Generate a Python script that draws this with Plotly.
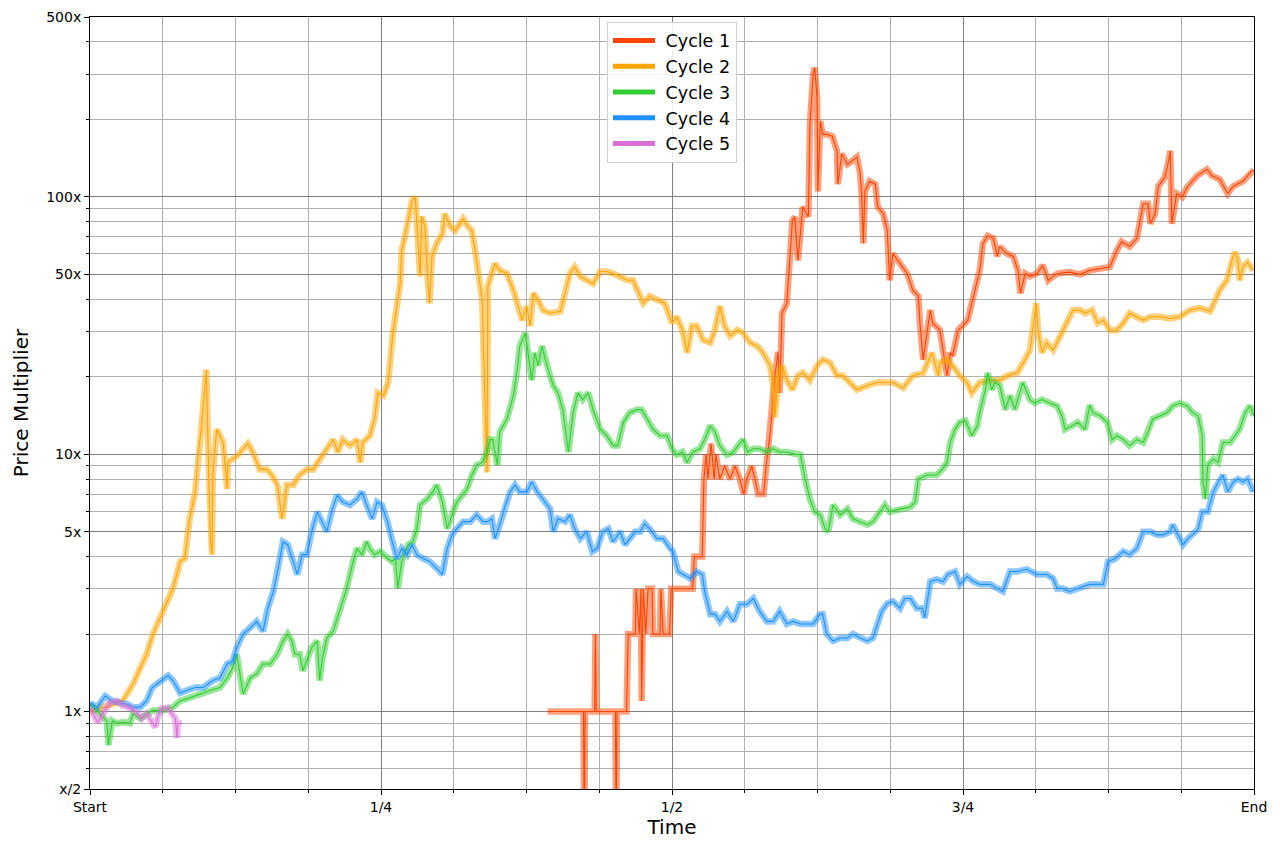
"""Cycle comparison chart.

Price multiplier of each cycle, normalised to its start, on a log axis.
"""

import plotly.graph_objects as go

# Length of one cycle in days (x axis runs Start -> End)
CYCLE_DAYS = 1460

CYCLE_NAMES = ["Cycle 1", "Cycle 2", "Cycle 3", "Cycle 4", "Cycle 5"]
CYCLE_COLORS = ["#FF4500", "#FFA500", "#32CD32", "#1E90FF", "#DA70D6"]

X_TICK_LABELS = ["Start", "1/4", "1/2", "3/4", "End"]
Y_TICK_VALUES = [0.5, 1, 5, 10, 50, 100, 500]
Y_TICK_LABELS = ["x/2", "1x", "5x", "10x", "50x", "100x", "500x"]

# Cycle 1 (starts late, stepped early prices)
CYCLE1_DAYS = [
    574, 619, 620, 621, 633, 634, 635, 659, 660, 661,
    673, 675, 684, 685, 689, 691, 692, 694, 697, 700,
    705, 706, 715, 716, 719, 727, 729, 756, 758, 768,
    770, 773, 775, 779, 783, 785, 790, 796, 803, 809,
    815, 820, 824, 830, 834, 838, 845, 848, 853, 859,
    863, 865, 868, 874, 881, 884, 888, 894, 901, 903,
    907, 909, 912, 913, 916, 919, 924, 931, 937, 938,
    943, 950, 956, 962, 966, 968, 970, 972, 978, 985,
    988, 995, 1000, 1003, 1007, 1016, 1025, 1032, 1039, 1041,
    1045, 1054, 1057, 1066, 1070, 1075, 1079, 1082, 1089, 1095,
    1101, 1108, 1116, 1120, 1126, 1133, 1138, 1141, 1150, 1158,
    1164, 1167, 1173, 1179, 1188, 1195, 1202, 1208, 1214, 1229,
    1242, 1254, 1267, 1279, 1288, 1294, 1304, 1313, 1321, 1327,
    1330, 1336, 1340, 1348, 1352, 1355, 1357, 1363, 1370, 1376,
    1389, 1401, 1407, 1417, 1427, 1434, 1446, 1457, 1460,
]
CYCLE1_MULT = [
    1.0, 1.0, 0.3, 1.0, 1.0, 2.0, 1.0, 1.0, 0.3, 1.0,
    1.0, 2.0, 2.0, 3.0, 2.0, 3.0, 1.1, 3.0, 2.0, 3.0,
    3.0, 2.0, 2.0, 3.0, 2.0, 2.0, 3.0, 3.0, 4.0, 4.0,
    8.0, 10.0, 8.0, 11.0, 8.0, 10.0, 8.0, 9.0, 8.0, 9.0,
    8.0, 7.0, 8.0, 9.0, 8.0, 7.0, 7.0, 9.0, 12.0, 20.0,
    25.0, 17.3, 35.3, 38.6, 80.8, 83.7, 56.6, 91.5, 83.7, 191,
    298, 318, 243, 105, 197, 175, 175, 172, 151, 112,
    147, 134, 138, 143, 123, 100, 65.9, 105, 115, 112,
    91.5, 86, 73.9, 47.4, 60.2, 55.1, 50.4, 43.4, 41.1, 32.3,
    23.3, 36.3, 32.3, 30.4, 25.4, 20.2, 24.8, 24.1, 30.4, 31.5,
    33.2, 41.1, 51.8, 65.9, 70.7, 69.0, 58.7, 64.1, 60.2, 58.7,
    51.8, 42.2, 50.4, 49.1, 50.4, 54.2, 47.4, 49.1, 50.4, 51.0,
    50.0, 51.8, 52.6, 53.4, 61.9, 67.0, 64.1, 68.9, 94.0, 94.0,
    78.7, 86.0, 110, 119, 134, 151, 78.7, 103, 100, 109,
    121, 128, 121, 117, 103, 110, 115, 126, 127,
]

# Cycle 2
CYCLE2_DAYS = [
    0, 13, 25, 41, 54, 63, 71, 79, 88, 97,
    104, 109, 113, 119, 125, 132, 135, 140, 144, 146,
    148, 151, 153, 154, 159, 163, 167, 172, 173, 179,
    186, 192, 198, 204, 213, 222, 228, 235, 241, 247,
    255, 263, 272, 280, 288, 297, 305, 311, 317, 326,
    335, 339, 342, 351, 357, 361, 368, 374, 380, 389,
    391, 395, 399, 404, 408, 411, 414, 416, 420, 424,
    426, 429, 435, 442, 445, 452, 458, 464, 468, 474,
    479, 483, 487, 492, 493, 495, 497, 498, 499, 504,
    508, 514, 523, 531, 536, 542, 548, 552, 556, 562,
    568, 577, 590, 596, 602, 608, 615, 623, 631, 640,
    648, 656, 665, 674, 681, 687, 694, 702, 711, 721,
    730, 736, 743, 749, 755, 761, 769, 778, 784, 790,
    796, 803, 812, 819, 828, 837, 844, 853, 857, 859,
    863, 868, 874, 881, 888, 894, 903, 912, 919, 928,
    937, 944, 953, 962, 975, 987, 1007, 1020, 1032, 1045,
    1056, 1064, 1066, 1075, 1082, 1091, 1100, 1106, 1116, 1129,
    1141, 1151, 1163, 1173, 1179, 1183, 1187, 1189, 1194, 1200,
    1208, 1217, 1225, 1233, 1242, 1248, 1257, 1264, 1271, 1279,
    1288, 1296, 1304, 1313, 1321, 1330, 1342, 1355, 1367, 1380,
    1392, 1405, 1411, 1417, 1426, 1432, 1436, 1440, 1442, 1446,
    1452, 1459,
]
CYCLE2_MULT = [
    1.0, 1.03, 1.05, 1.10, 1.28, 1.48, 1.67, 2.0, 2.31, 2.68,
    3.01, 3.41, 3.83, 3.93, 5.61, 7.14, 9.59, 12.9, 18.5, 21.3,
    11.1, 4.57, 4.07, 8.30, 12.5, 11.8, 11.1, 7.33, 9.29, 9.59,
    9.95, 10.5, 11.0, 10.2, 8.73, 8.73, 8.30, 7.59, 5.61, 7.59,
    7.59, 8.30, 8.73, 8.73, 9.59, 10.5, 11.4, 10.2, 11.4, 10.8,
    11.4, 9.29, 11.1, 11.8, 13.7, 17.3, 16.9, 19.0, 29.6, 46.0,
    62.0, 70.0, 80.8, 96.8, 100, 72.0, 49.1, 84.0, 76.7, 46.0,
    38.6, 58.7, 65.9, 72.0, 86.0, 76.7, 73.9, 78.7, 82.2, 76.7,
    73.9, 62.0, 50.4, 39.7, 29.6, 19.0, 12.2, 8.5, 44.9, 50.4,
    55.1, 51.8, 50.4, 43.4, 38.6, 33.2, 37.6, 31.5, 42.2, 39.7,
    36.3, 35.3, 35.9, 42.2, 50.4, 53.4, 49.1, 47.4, 46.0, 51.3,
    51.3, 50.4, 49.1, 47.4, 47.4, 43.4, 38.6, 41.1, 39.7, 38.6,
    32.3, 34.2, 30.4, 24.8, 31.5, 31.5, 27.8, 27.1, 30.4, 37.6,
    31.5, 28.8, 30.4, 29.6, 27.1, 26.3, 24.8, 22.1, 18.5, 13.9,
    19.4, 22.1, 19.4, 17.8, 20.2, 20.7, 19.4, 22.1, 23.3, 22.7,
    20.2, 20.2, 19.0, 17.8, 18.5, 19.0, 19.0, 18.1, 20.2, 20.7,
    24.8, 20.2, 22.7, 23.3, 22.1, 20.2, 19.0, 17.3, 19.0, 19.4,
    19.4, 20.2, 20.7, 23.3, 25.4, 31.5, 38.6, 30.4, 24.8, 27.1,
    25.4, 28.8, 32.3, 36.3, 36.3, 35.3, 36.3, 32.3, 33.2, 30.4,
    30.4, 32.3, 35.3, 34.2, 33.2, 34.2, 34.2, 33.7, 34.2, 36.3,
    37.0, 35.9, 39.3, 43.4, 47.4, 56.6, 61.1, 56.6, 47.4, 53.4,
    55.6, 51.8,
]

# Cycle 3
CYCLE3_DAYS = [
    0, 13, 21, 23, 28, 34, 41, 50, 54, 63,
    71, 79, 92, 104, 113, 125, 138, 151, 163, 172,
    179, 184, 188, 192, 201, 209, 217, 226, 235, 242,
    248, 253, 257, 263, 267, 272, 278, 285, 288, 291,
    297, 305, 314, 322, 330, 335, 341, 347, 351, 357,
    364, 373, 379, 383, 386, 391, 399, 405, 410, 414,
    423, 430, 435, 442, 448, 454, 460, 467, 473, 479,
    485, 492, 498, 502, 505, 511, 514, 523, 531, 536,
    539, 546, 549, 554, 558, 562, 567, 571, 577, 581,
    587, 593, 600, 606, 612, 618, 625, 631, 640, 648,
    656, 662, 669, 677, 686, 692, 699, 706, 715, 724,
    730, 736, 743, 749, 756, 765, 771, 778, 784, 790,
    799, 807, 813, 819, 825, 832, 840, 849, 857, 865,
    874, 884, 891, 897, 903, 909, 916, 922, 926, 932,
    941, 950, 957, 966, 975, 982, 991, 997, 1003, 1016,
    1029, 1035, 1039, 1050, 1062, 1069, 1075, 1079, 1085, 1091,
    1098, 1106, 1113, 1116, 1123, 1126, 1131, 1135, 1141, 1148,
    1154, 1160, 1170, 1179, 1185, 1194, 1204, 1213, 1219, 1223,
    1232, 1239, 1248, 1254, 1258, 1267, 1276, 1282, 1288, 1296,
    1304, 1313, 1321, 1327, 1333, 1342, 1351, 1358, 1367, 1376,
    1383, 1390, 1395, 1396, 1399, 1402, 1409, 1415, 1421, 1430,
    1436, 1442, 1449, 1455, 1460,
]
CYCLE3_MULT = [
    1.07, 0.98, 0.92, 0.74, 0.92, 0.90, 0.91, 0.90, 0.98, 0.94,
    0.98, 1.01, 1.01, 1.04, 1.10, 1.13, 1.17, 1.21, 1.24, 1.35,
    1.48, 1.67, 1.40, 1.17, 1.35, 1.40, 1.53, 1.53, 1.67, 1.88,
    2.0, 1.88, 1.67, 1.67, 1.44, 1.57, 1.77, 1.88, 1.32, 1.57,
    1.93, 2.05, 2.52, 3.01, 3.83, 4.30, 4.07, 4.57, 4.30, 4.07,
    4.19, 3.93, 3.83, 3.93, 3.01, 3.83, 4.45, 4.57, 5.13, 6.35,
    6.70, 7.14, 7.59, 6.52, 5.13, 5.81, 6.52, 6.93, 7.33, 8.30,
    9.06, 9.29, 10.2, 11.4, 11.4, 9.06, 12.2, 13.7, 16.9, 21.3,
    26.3, 29.6, 24.8, 19.4, 24.8, 22.1, 26.3, 23.3, 20.2, 18.5,
    17.3, 14.9, 10.2, 14.5, 17.3, 16.3, 17.3, 14.9, 12.5, 11.8,
    10.8, 10.8, 13.3, 14.5, 14.9, 14.9, 13.7, 12.5, 11.8, 11.8,
    10.5, 9.95, 10.2, 9.29, 10.2, 10.5, 11.4, 12.9, 12.2, 10.8,
    9.95, 10.2, 10.8, 11.4, 10.2, 10.5, 10.5, 10.2, 10.5, 10.2,
    10.2, 10.0, 9.95, 8.01, 6.70, 5.97, 5.81, 5.13, 5.0, 6.35,
    5.81, 6.13, 5.61, 5.47, 5.32, 5.47, 5.97, 6.35, 5.97, 6.13,
    6.23, 6.52, 8.01, 8.30, 8.30, 8.73, 9.29, 11.1, 12.5, 13.3,
    13.5, 11.8, 12.9, 14.5, 17.8, 20.7, 17.8, 19.0, 18.5, 14.9,
    16.9, 14.9, 19.0, 16.3, 15.8, 16.3, 15.8, 15.4, 14.1, 12.5,
    12.9, 13.3, 12.5, 15.5, 14.5, 14.1, 13.3, 11.4, 11.8, 11.4,
    10.8, 11.4, 11.1, 12.2, 13.7, 14.1, 14.5, 15.4, 15.8, 15.4,
    14.5, 14.1, 11.8, 7.8, 6.70, 9.06, 9.59, 9.29, 11.1, 11.1,
    11.8, 12.5, 14.5, 15.4, 14.1,
]

# Cycle 4
CYCLE4_DAYS = [
    0, 9, 19, 28, 38, 46, 54, 63, 71, 78,
    84, 92, 98, 104, 113, 122, 132, 142, 154, 163,
    172, 179, 184, 192, 201, 209, 217, 223, 230, 236,
    242, 248, 255, 260, 266, 272, 278, 285, 291, 297,
    304, 310, 317, 326, 335, 341, 347, 354, 360, 366,
    373, 379, 385, 391, 398, 404, 410, 418, 426, 435,
    442, 448, 454, 460, 468, 477, 485, 493, 499, 504,
    508, 514, 521, 527, 533, 539, 548, 554, 561, 568,
    577, 581, 587, 596, 602, 608, 615, 623, 630, 636,
    643, 650, 656, 665, 671, 677, 684, 690, 696, 702,
    711, 719, 727, 731, 738, 744, 753, 761, 768, 771,
    778, 784, 790, 799, 807, 815, 824, 832, 840, 849,
    857, 865, 874, 882, 891, 899, 907, 916, 919, 924,
    932, 941, 950, 957, 966, 975, 982, 988, 993, 1000,
    1007, 1016, 1022, 1029, 1037, 1044, 1047, 1054, 1062, 1070,
    1076, 1085, 1091, 1100, 1108, 1116, 1129, 1138, 1145, 1154,
    1163, 1175, 1188, 1200, 1208, 1213, 1220, 1229, 1238, 1246,
    1254, 1263, 1271, 1277, 1286, 1296, 1304, 1313, 1321, 1330,
    1338, 1346, 1355, 1358, 1365, 1371, 1377, 1383, 1390, 1395,
    1402, 1409, 1415, 1421, 1427, 1434, 1440, 1446, 1452, 1459,
]
CYCLE4_MULT = [
    1.08, 1.04, 1.15, 1.10, 1.08, 1.07, 1.04, 1.04, 1.10, 1.24,
    1.28, 1.34, 1.38, 1.32, 1.18, 1.21, 1.24, 1.24, 1.32, 1.35,
    1.53, 1.57, 1.77, 2.0, 2.11, 2.24, 2.05, 2.52, 2.93, 3.60,
    4.57, 4.45, 3.83, 3.41, 4.07, 4.07, 5.0, 5.97, 5.47, 5.0,
    6.13, 6.93, 6.52, 6.35, 6.70, 7.14, 6.35, 5.61, 6.52, 6.35,
    5.47, 4.57, 3.93, 4.30, 4.07, 4.45, 4.07, 3.93, 3.83, 3.60,
    3.41, 4.30, 4.86, 5.13, 5.47, 5.47, 5.81, 5.47, 5.47, 5.61,
    4.70, 5.32, 6.35, 7.14, 7.59, 7.14, 7.14, 7.80, 7.14, 6.70,
    6.13, 5.0, 5.61, 5.47, 5.81, 5.13, 4.70, 5.0, 4.19, 4.30,
    5.0, 5.13, 4.57, 5.0, 4.45, 4.70, 5.0, 5.0, 5.37, 5.13,
    4.70, 4.70, 4.30, 4.19, 3.50, 3.41, 3.29, 3.50, 3.41, 2.93,
    2.39, 2.39, 2.24, 2.45, 2.24, 2.61, 2.61, 2.75, 2.45, 2.24,
    2.24, 2.45, 2.19, 2.24, 2.19, 2.19, 2.19, 2.39, 2.39, 2.0,
    1.88, 1.93, 1.93, 2.0, 1.93, 1.88, 1.93, 2.19, 2.45, 2.63,
    2.68, 2.52, 2.75, 2.75, 2.52, 2.52, 2.31, 3.20, 3.26, 3.20,
    3.41, 3.50, 3.12, 3.35, 3.20, 3.12, 3.12, 3.01, 2.93, 3.50,
    3.50, 3.57, 3.41, 3.41, 3.29, 3.01, 3.01, 2.93, 3.01, 3.07,
    3.12, 3.12, 3.12, 3.83, 3.93, 4.19, 4.07, 4.30, 5.0, 5.0,
    4.86, 4.86, 5.0, 5.32, 4.86, 4.45, 4.70, 4.86, 5.13, 5.97,
    5.97, 7.14, 7.80, 8.30, 7.14, 7.80, 8.01, 7.80, 8.01, 7.14,
]

# Cycle 5 (current, only the first months)
CYCLE5_DAYS = [
    0, 10, 16, 25, 34, 41, 50, 59, 65, 71,
    78, 82, 85, 90, 97, 103, 107, 109, 110, 115,
]
CYCLE5_MULT = [
    1.03, 0.907, 0.98, 1.08, 1.10, 1.055, 1.036, 0.99, 0.94, 0.98,
    0.907, 0.87, 0.95, 1.03, 1.036, 0.98, 0.94, 0.79, 0.90, 0.90,
]

FONT = "DejaVu Sans"


def add_cycle(fig: go.Figure, days: list, mult: list, name: str, color: str) -> None:
    """Add one cycle as a soft wide band with a thin line on top.

    Args:
        fig: Plotly Figure
        days: days since cycle start
        mult: price multiplier
        name: legend name
        color: line colour
    """
    # 半透明の太線（帯）
    fig.add_trace(
        go.Scatter(
            x=days,
            y=mult,
            mode="lines",
            line=dict(color=color, width=6.5),
            opacity=0.5,
            showlegend=False,
            hoverinfo="skip",
        )
    )
    # 細い本線
    fig.add_trace(
        go.Scatter(
            x=days,
            y=mult,
            mode="lines",
            line=dict(color=color, width=1.1),
            name=name,
            showlegend=False,
        )
    )
    # 凡例用のダミー
    fig.add_trace(
        go.Scatter(
            x=[None],
            y=[None],
            mode="lines",
            line=dict(color=color, width=5),
            name=" " + name,
            showlegend=True,
        )
    )


def create_chart() -> go.Figure:
    """Build the cycle comparison figure."""
    fig = go.Figure()

    series = [
        (CYCLE1_DAYS, CYCLE1_MULT),
        (CYCLE2_DAYS, CYCLE2_MULT),
        (CYCLE3_DAYS, CYCLE3_MULT),
        (CYCLE4_DAYS, CYCLE4_MULT),
        (CYCLE5_DAYS, CYCLE5_MULT),
    ]
    for (days, mult), name, color in zip(series, CYCLE_NAMES, CYCLE_COLORS):
        add_cycle(fig, days, mult, name, color)

    x_ticks = [CYCLE_DAYS * i / 4 for i in range(5)]
    y_minor = [
        m * 10.0 ** e
        for e in (-1, 0, 1, 2)
        for m in range(2, 10)
        if 0.5 < m * 10.0 ** e < 500 and m != 5
    ]

    # ページ本体の余白 (8px) を差し引いたサイズ
    fig.update_layout(
        width=1264,
        height=837,
        margin=dict(l=82, r=18, t=9, b=56),
        paper_bgcolor="white",
        plot_bgcolor="white",
        font=dict(family=FONT, size=14, color="#000000"),
        legend=dict(
            x=0.5,
            y=0.994,
            xanchor="center",
            yanchor="top",
            bgcolor="rgba(255, 255, 255, 0.85)",
            bordercolor="#d0d0d0",
            borderwidth=1,
            font=dict(family=FONT, size=17.5, color="#000000"),
            itemwidth=42,
            tracegroupgap=0,
        ),
    )

    fig.update_xaxes(
        range=[0, CYCLE_DAYS],
        tickmode="array",
        tickvals=x_ticks,
        ticktext=X_TICK_LABELS,
        ticklabeloverflow="allow",
        ticks="outside",
        ticklen=5,
        tickcolor="#000000",
        showgrid=True,
        gridcolor="#808080",
        gridwidth=1.2,
        zeroline=False,
        showline=True,
        linecolor="#000000",
        linewidth=1,
        mirror=True,
        minor=dict(
            dtick=CYCLE_DAYS / 16,
            tick0=0,
            ticks="outside",
            ticklen=3,
            tickcolor="#000000",
            showgrid=True,
            gridcolor="#b0b0b0",
            gridwidth=1,
        ),
        title=dict(text="Time", font=dict(family=FONT, size=20), standoff=4),
        automargin=False,
    )

    fig.update_yaxes(
        type="log",
        # 端の目盛り (x/2, 500x) が消えないようにわずかに広げる
        range=[-0.30104, 2.69898],
        tickmode="array",
        tickvals=Y_TICK_VALUES,
        ticktext=Y_TICK_LABELS,
        ticklabeloverflow="allow",
        ticks="outside",
        ticklen=5,
        tickcolor="#000000",
        showgrid=True,
        gridcolor="#808080",
        gridwidth=1.2,
        zeroline=False,
        showline=True,
        linecolor="#000000",
        linewidth=1,
        mirror=True,
        minor=dict(
            tickmode="array",
            tickvals=y_minor,
            ticks="outside",
            ticklen=3,
            tickcolor="#000000",
            showgrid=True,
            gridcolor="#b0b0b0",
            gridwidth=1,
        ),
        title=dict(text="Price Multiplier", font=dict(family=FONT, size=20), standoff=12),
        automargin=False,
    )

    return fig


fig = create_chart()
fig.write_html("out.html")
